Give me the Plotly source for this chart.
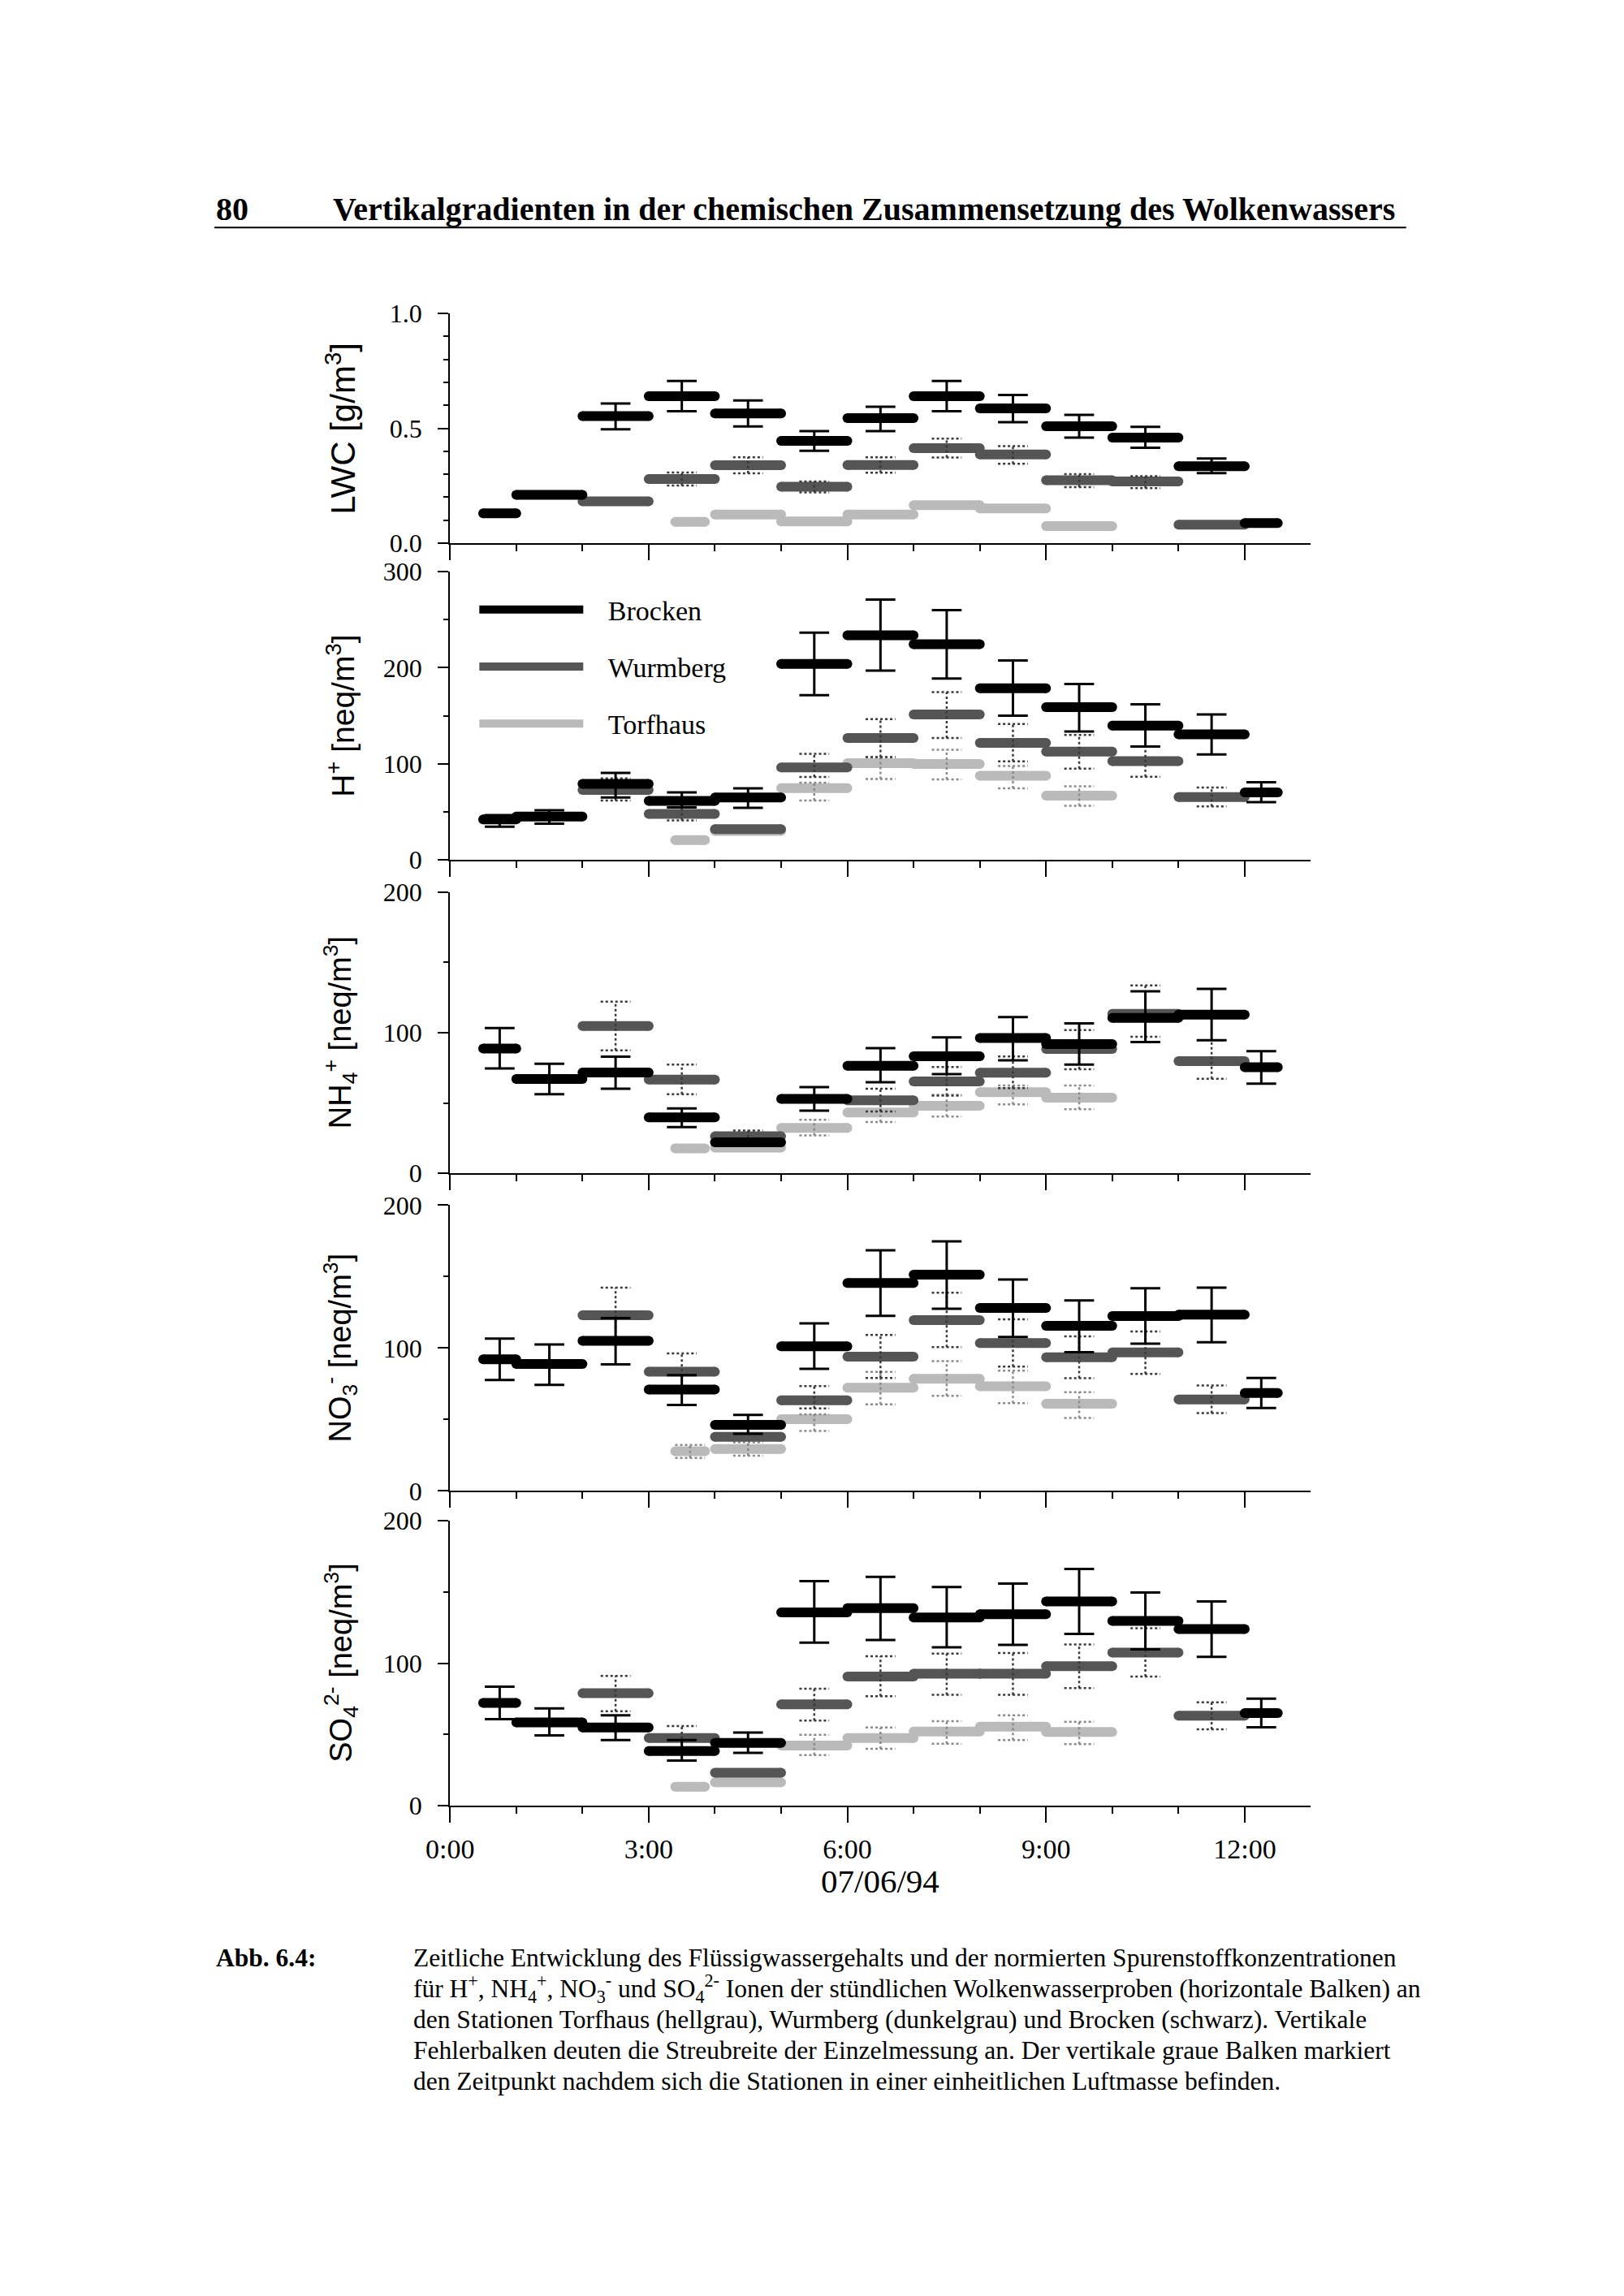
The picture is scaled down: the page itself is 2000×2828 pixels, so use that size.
import plotly.graph_objects as go

W, H = 2000, 2828

# ---------------- sampling intervals (hours after 0:00, 07/06/94) ----------------
B_START = [0.5, 1, 2, 3, 4, 5, 6, 7, 8, 9, 10, 11, 12]
B_END = [1, 2, 3, 4, 5, 6, 7, 8, 9, 10, 11, 12, 12.5]
W_START = [2, 3, 4, 5, 6, 7, 8, 9, 10, 11]
W_END = [3, 4, 5, 6, 7, 8, 9, 10, 11, 12]
T_START = [3.4, 4, 5, 6, 7, 8, 9]
T_END = [3.85, 5, 6, 7, 8, 9, 10]

# ---------------- LWC [g/m3] ----------------
LWC_B = [0.13, 0.21, 0.553, 0.64, 0.565, 0.445, 0.544, 0.64, 0.587, 0.509, 0.459, 0.335, 0.087]
LWC_B_HI = [None, None, 0.608, 0.706, 0.621, 0.488, 0.594, 0.706, 0.645, 0.558, 0.506, 0.368, None]
LWC_B_LO = [None, None, 0.496, 0.574, 0.508, 0.402, 0.488, 0.574, 0.527, 0.459, 0.415, 0.305, None]
LWC_W = [0.182, 0.279, 0.339, 0.245, 0.34, 0.413, 0.386, 0.274, 0.268, 0.08]
LWC_W_HI = [None, 0.307, 0.374, 0.268, 0.374, 0.455, 0.422, 0.30, 0.291, None]
LWC_W_LO = [None, 0.251, 0.304, 0.221, 0.306, 0.373, 0.345, 0.244, 0.239, None]
LWC_T = [0.092, 0.124, 0.094, 0.124, 0.165, 0.151, 0.074]
LWC_T_HI = [None] * 7
LWC_T_LO = [None] * 7

# ---------------- H+ [neq/m3] ----------------
H_B = [42, 45, 79, 61.4, 64.8, 203.9, 233.8, 224.5, 178.6, 158.9, 139.7, 130.7, 70.1]
H_B_HI = [46.5, 51.5, 90.5, 70.1, 74.5, 236.6, 271, 260, 207.6, 183.1, 162, 151.3, 80.8]
H_B_LO = [34.4, 37.7, 65, 54.6, 54.2, 171.5, 196.9, 188.7, 150.1, 133.5, 118, 109.6, 60]
H_W = [72.8, 47.7, 32, 96.2, 126.8, 151.3, 121.7, 112.7, 102.8, 65.4]
H_W_HI = [84.8, 54.5, None, 110.4, 146.5, 174.6, 141.4, 130, 118, 75.2]
H_W_LO = [61.7, 41, None, 86.2, 107, 126.8, 102.5, 94.9, 86.5, 55.5]
H_T = [20.5, 30, 74.7, 100.6, 99.7, 87.6, 66.8]
H_T_HI = [None, None, 80.4, 107, 114.6, 97.7, 76.6]
H_T_LO = [None, None, 61.7, 84.2, 83.7, 74.4, 56.3]

# ---------------- NH4+ [neq/m3] ----------------
NH4_B = [88.7, 67.1, 71.7, 39.8, 22.1, 52.9, 76.5, 83.3, 96.2, 91.9, 110.6, 112.9, 75.4]
NH4_B_HI = [103.3, 77.9, 82.9, 46.2, None, 61.3, 89, 96.7, 111.2, 106.7, 129.4, 131.2, 86.9]
NH4_B_LO = [74.6, 56.3, 60.2, 32.9, None, 44.6, 64.8, 70.6, 80.4, 77.3, 93.3, 94.6, 63.8]
NH4_W = [104.8, 66.7, 26.3, None, 51.9, 65.4, 71.5, 88.5, 113.5, 79.8]
NH4_W_HI = [122.1, 77.3, 30.4, None, 60.2, 75.6, 83.1, 101.9, 133.7, 94.6]
NH4_W_LO = [87.5, 56.2, 22, None, 44, 55.2, 60.6, 74, 97.1, 67.3]
NH4_T = [17.7, 18.3, 32.3, 43.3, 48.1, 57.7, 53.8]
NH4_T_HI = [None, None, 38, 50, 55.8, 62.5, 62.5]
NH4_T_LO = [None, None, 26.9, 36.5, 40.4, 49, 45.6]

# ---------------- NO3- [neq/m3] ----------------
NO3_B = [92.1, 88.9, 105, 71, 46.2, 101.2, 145.5, 151.4, 128.1, 115.6, 122.4, 123.4, 68.5]
NO3_B_HI = [106.6, 102.5, 121, 81, 53.2, 117.3, 168.4, 174.6, 148, 133.4, 141.9, 142.3, 79.1]
NO3_B_LO = [77.6, 74.3, 88.6, 60.2, 40, 85.5, 122.6, 127.5, 107.8, 97.1, 103.1, 104.1, 58.1]
NO3_W = [123, 83.4, 37.9, 63.4, 94, 119.6, 103.5, 93.6, 97, 64]
NO3_W_HI = [142.3, 96.3, None, 73.4, 109.2, 138.7, 120.1, 108.2, 111.6, 73.8]
NO3_W_LO = [104, 70, None, 57.7, 79.1, 100.7, 87, 78.9, 81.9, 54.5]
NO3_T = [27.8, 29.3, 50.2, 72.3, 78.5, 73.2, 61]
NO3_T_HI = [32.2, 34, 53.6, 83.3, 90.8, 84.2, 69.1]
NO3_T_LO = [23.1, 24.6, 42, 60.6, 66.6, 61.5, 51.1]

# ---------------- SO4 2- [neq/m3] ----------------
SO4_B = [72.2, 58.4, 54.9, 38.4, 44.1, 135.7, 138.6, 132.1, 134.4, 143.3, 129.7, 124, 65]
SO4_B_HI = [83.5, 68.3, 63.5, 46, 51.3, 157.6, 160.6, 153.4, 155.9, 166.2, 149.6, 143.3, 75.1]
SO4_B_LO = [60.8, 49.4, 46, 31.7, 37.1, 114.4, 116.3, 111.2, 112.9, 120.5, 109.7, 104.4, 55.1]
SO4_W = [78.9, 47.5, 23.2, 71.1, 90.7, 92.6, 92.6, 97.9, 107.4, 63.1]
SO4_W_HI = [91.1, 55.9, None, 82.1, 104.9, 106.8, 107.2, 113.1, 124.5, 72.6]
SO4_W_LO = [66.3, 40, None, 59.7, 76.8, 77.9, 77.9, 82.5, 90.7, 53.6]
SO4_T = [13.3, 16.5, 42.2, 47.5, 52.1, 55.5, 51.7]
SO4_T_HI = [None, None, 49.8, 54.9, 59.3, 63.5, 58.9]
SO4_T_LO = [None, None, 35.6, 39.9, 43.5, 46, 43.2]

STATIONS = ["Torfhaus", "Wurmberg", "Brocken"]
X_TICKS = [0, 3, 6, 9, 12]
X_TICKTEXT = ["0:00", "3:00", "6:00", "9:00", "12:00"]
X_TITLE = "07/06/94"

PANELS = [
    dict(title="LWC [g/m<sup>3</sup>]", tsize=42, rng=[0, 1], dtick=0.5, minor=0.1, fmt=".1f",
         top=385, bot=668,
         data={"Brocken": (LWC_B, LWC_B_LO, LWC_B_HI), "Wurmberg": (LWC_W, LWC_W_LO, LWC_W_HI),
               "Torfhaus": (LWC_T, LWC_T_LO, LWC_T_HI)}),
    dict(title="H<sup>+</sup> [neq/m<sup>3</sup>]", tsize=39, rng=[0, 300], dtick=100, minor=50, fmt="d",
         top=703.3, bot=1058.5,
         data={"Brocken": (H_B, H_B_LO, H_B_HI), "Wurmberg": (H_W, H_W_LO, H_W_HI),
               "Torfhaus": (H_T, H_T_LO, H_T_HI)}),
    dict(title="NH<sub>4</sub><sup>+</sup> [neq/m<sup>3</sup>]", tsize=38, rng=[0, 200], dtick=100, minor=50,
         fmt="d", top=1098.4, bot=1445,
         data={"Brocken": (NH4_B, NH4_B_LO, NH4_B_HI), "Wurmberg": (NH4_W, NH4_W_LO, NH4_W_HI),
               "Torfhaus": (NH4_T, NH4_T_LO, NH4_T_HI)}),
    dict(title="NO<sub>3</sub><sup>-</sup> [neq/m<sup>3</sup>]", tsize=38, rng=[0, 200], dtick=100, minor=50,
         fmt="d", top=1484.3, bot=1836.6,
         data={"Brocken": (NO3_B, NO3_B_LO, NO3_B_HI), "Wurmberg": (NO3_W, NO3_W_LO, NO3_W_HI),
               "Torfhaus": (NO3_T, NO3_T_LO, NO3_T_HI)}),
    dict(title="SO<sub>4</sub><sup>2-</sup> [neq/m<sup>3</sup>]", tsize=38, rng=[0, 200], dtick=100, minor=50,
         fmt="d", top=1873.3, bot=2224.7,
         data={"Brocken": (SO4_B, SO4_B_LO, SO4_B_HI), "Wurmberg": (SO4_W, SO4_W_LO, SO4_W_HI),
               "Torfhaus": (SO4_T, SO4_T_LO, SO4_T_HI)}),
]

TIMES = {"Brocken": (B_START, B_END), "Wurmberg": (W_START, W_END), "Torfhaus": (T_START, T_END)}
STYLE = {
    "Brocken": dict(bar="#000000", err="#000000", dash="solid", ew=3, rank=1),
    "Wurmberg": dict(bar="#555555", err="#3a3a3a", dash="dot", ew=2.5, rank=2),
    "Torfhaus": dict(bar="#bababa", err="#8a8a8a", dash="dot", ew=2.5, rank=3),
}

SERIF = "Liberation Serif, Times New Roman, serif"
SANS = "Liberation Sans, Arial, sans-serif"
X0_REF, X1_REF = 553, 1612   # x-axis extent in page pixels
XMAX = 12.99
CAP_HALF = 0.225  # hours
BAR_W = 12

# page-placement calibration (observed render offset/scale of the page)
SX, BX = 0.9846, 29.0
SY, BY = 0.9882, 16.5


def cx(px):
    return (px - BX) / SX


def cy(py):
    return (py - BY) / SY


def pfx(px):
    return cx(px) / W


def pfy(py):
    return 1 - cy(py) / H


def bar_xy(starts, ends, vals):
    xs, ys = [], []
    for s, e, v in zip(starts, ends, vals):
        if v is None:
            continue
        xs += [s, e, None]
        ys += [v, v, None]
    return xs, ys


def err_xy(starts, ends, lo, hi):
    xs, ys = [], []
    for s, e, l, h in zip(starts, ends, lo, hi):
        if l is None or h is None:
            continue
        c = (s + e) / 2
        xs += [c, c, None, c - CAP_HALF, c + CAP_HALF, None, c - CAP_HALF, c + CAP_HALF, None]
        ys += [l, h, None, h, h, None, l, l, None]
    return xs, ys


fig = go.Figure()
layout = dict(width=W, height=H, margin=dict(l=0, r=0, t=0, b=0), autosize=False,
              paper_bgcolor="white", plot_bgcolor="rgba(0,0,0,0)", showlegend=True)

annotations = []
for i, p in enumerate(PANELS, start=1):
    xa = "x" if i == 1 else f"x{i}"
    ya = "y" if i == 1 else f"y{i}"
    for st in STATIONS:
        vals, lo, hi = p["data"][st]
        starts, ends = TIMES[st]
        s = STYLE[st]
        bx, by = bar_xy(starts, ends, vals)
        # horizontal sample bars
        fig.add_trace(go.Scatter(x=bx, y=by, mode="lines", xaxis=xa, yaxis=ya,
                                 line=dict(color=s["bar"], width=BAR_W),
                                 name="\u00a0\u00a0\u00a0" + st, legendgroup=st, legendrank=s["rank"],
                                 showlegend=(i == 2), hoverinfo="skip"))
        # rounded bar ends
        fig.add_trace(go.Scatter(x=bx, y=by, mode="markers", xaxis=xa, yaxis=ya,
                                 marker=dict(color=s["bar"], size=BAR_W, symbol="circle", line=dict(width=0)),
                                 legendgroup=st, showlegend=False, hoverinfo="skip"))
        ex, ey = err_xy(starts, ends, lo, hi)
        if ex:
            fig.add_trace(go.Scatter(x=ex, y=ey, mode="lines", xaxis=xa, yaxis=ya,
                                     line=dict(color=s["err"], width=s["ew"], dash=s["dash"]),
                                     legendgroup=st, showlegend=False, hoverinfo="skip"))

    xkey = "xaxis" if i == 1 else f"xaxis{i}"
    ykey = "yaxis" if i == 1 else f"yaxis{i}"
    layout[xkey] = dict(domain=[pfx(X0_REF), pfx(X1_REF)], range=[0, XMAX], anchor=ya,
                        showline=True, linecolor="black", linewidth=2,
                        ticks="outside", ticklen=19, tickwidth=2, tickcolor="black",
                        tickmode="array", tickvals=X_TICKS, ticktext=X_TICKTEXT,
                        showticklabels=(i == len(PANELS)), ticklabelstandoff=3,
                        tickfont=dict(family=SERIF, size=34, color="black"),
                        minor=dict(ticks="outside", ticklen=8, tickwidth=2, tickcolor="black",
                                   tick0=0, dtick=1, showgrid=False),
                        showgrid=False, zeroline=False, fixedrange=True)
    layout[ykey] = dict(domain=[pfy(p["bot"]), pfy(p["top"])], range=p["rng"], anchor=xa,
                        showline=True, linecolor="black", linewidth=2,
                        ticks="outside", ticklen=13, tickwidth=2, tickcolor="black",
                        tick0=0, dtick=p["dtick"], tickformat=p["fmt"], ticklabelstandoff=13,
                        tickfont=dict(family=SERIF, size=32, color="black"),
                        minor=dict(ticks="outside", ticklen=6, tickwidth=2, tickcolor="black",
                                   tick0=0, dtick=p["minor"], showgrid=False),
                        showgrid=False, zeroline=False, fixedrange=True)
    annotations.append(dict(text=p["title"], xref="paper", yref="paper",
                            x=pfx(418), y=pfy((p["top"] + p["bot"]) / 2),
                            xanchor="center", yanchor="middle", textangle=-90, showarrow=False,
                            font=dict(family=SANS, size=p["tsize"], color="black")))

# x-axis title (date)
annotations.append(dict(text=X_TITLE, xref="paper", yref="paper", x=pfx((X0_REF + X1_REF) / 2),
                        y=pfy(2318), xanchor="center", yanchor="middle", showarrow=False,
                        font=dict(family=SERIF, size=41, color="black")))

# page header
annotations.append(dict(text="<b>80</b>", xref="paper", yref="paper", x=pfx(263), y=pfy(256),
                        xanchor="left", yanchor="middle", showarrow=False,
                        font=dict(family=SERIF, size=40, color="black")))
annotations.append(dict(text="<b>Vertikalgradienten in der chemischen Zusammensetzung des Wolkenwassers</b>",
                        xref="paper", yref="paper", x=pfx(407), y=pfy(256),
                        xanchor="left", yanchor="middle", showarrow=False,
                        font=dict(family=SERIF, size=40, color="black")))

# caption
CAPTION = [
    "Zeitliche Entwicklung des Flüssigwassergehalts und der normierten Spurenstoffkonzentrationen",
    "für H<sup>+</sup>, NH<sub>4</sub><sup>+</sup>, NO<sub>3</sub><sup>-</sup> und SO<sub>4</sub><sup>2-</sup> Ionen der stündlichen Wolkenwasserproben (horizontale Balken) an",
    "den Stationen Torfhaus (hellgrau), Wurmberg (dunkelgrau) und Brocken (schwarz). Vertikale",
    "Fehlerbalken deuten die Streubreite der Einzelmessung an. Der vertikale graue Balken markiert",
    "den Zeitpunkt nachdem sich die Stationen in einer einheitlichen Luftmasse befinden.",
]
annotations.append(dict(text="<b>Abb. 6.4:</b>", xref="paper", yref="paper", x=pfx(263), y=pfy(2412),
                        xanchor="left", yanchor="middle", showarrow=False,
                        font=dict(family=SERIF, size=31.5, color="black")))
for k, line in enumerate(CAPTION):
    annotations.append(dict(text=line, xref="paper", yref="paper", x=pfx(506), y=pfy(2412 + 38 * k),
                            xanchor="left", yanchor="middle", showarrow=False,
                            font=dict(family=SERIF, size=31.5, color="black")))

layout["annotations"] = annotations
layout["shapes"] = [dict(type="line", xref="paper", yref="paper", x0=pfx(263), x1=pfx(1730),
                         y0=pfy(279), y1=pfy(279), line=dict(color="black", width=2))]
layout["legend"] = dict(x=(cx(589) - 5) / W, y=1 - (cy(750) - 29) / H, xanchor="left", yanchor="top",
                        bgcolor="rgba(0,0,0,0)", borderwidth=0, itemwidth=128,
                        tracegroupgap=23, traceorder="grouped", itemclick=False, itemdoubleclick=False,
                        font=dict(family=SERIF, size=34, color="black"))
fig.update_layout(**layout)

fig.write_html("out.html", config={"displayModeBar": False},
               post_script="document.body.style.margin='0px';document.body.style.overflow='hidden';")
